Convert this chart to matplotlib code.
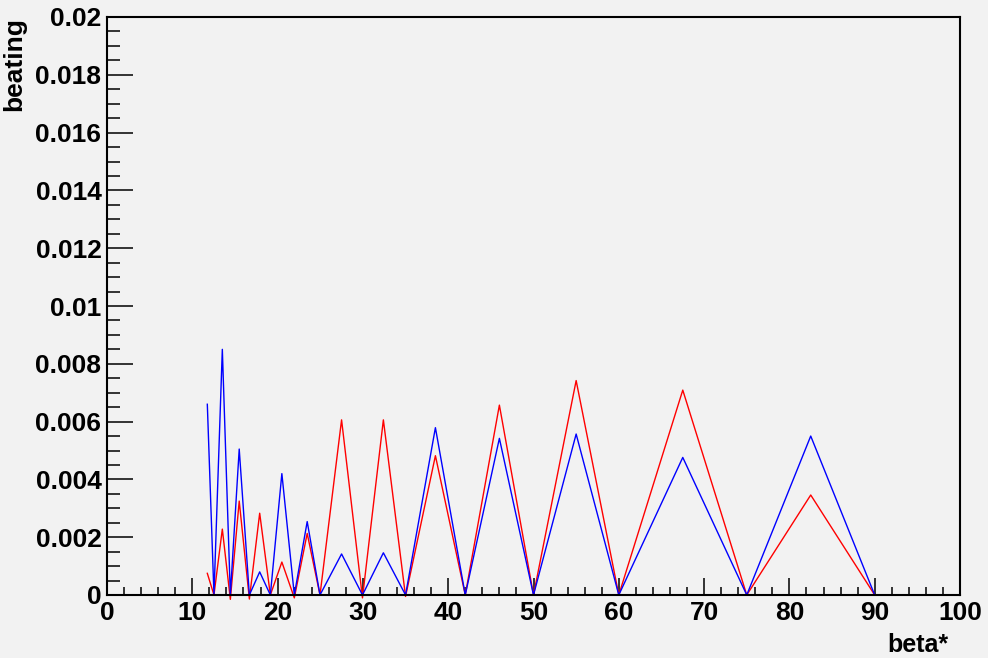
import numpy as np
import matplotlib
matplotlib.use("Agg")
import matplotlib.pyplot as plt
from matplotlib.ticker import MultipleLocator

plt.rcParams['font.family'] = ['Liberation Sans', 'DejaVu Sans']
plt.rcParams['font.weight'] = 'bold'

# valores de beta* (comunes a las dos curvas)
beta = [11.76, 12.54, 13.52, 14.46, 15.5, 16.69, 17.9, 19.15, 20.5, 21.96,
        23.47, 24.97, 27.5, 29.95, 32.4, 35.0, 38.5, 42.0, 46.0, 50.0,
        55.0, 60.0, 67.5, 75.0, 82.5, 90.0]

# beating (rojo)
beat_red = [0.00075, 0.0, 0.00228, -0.00015, 0.00325, -0.00014, 0.00283, 0.0,
            0.00114, -0.0001, 0.00213, 0.0, 0.00606, -0.0001, 0.00606, -0.00005,
            0.00482, 0.0, 0.00657, 0.0, 0.00742, 0.0, 0.00709, 0.0, 0.00346, 0.0]

# beating (azul)
beat_blue = [0.0066, 0.0, 0.0085, 0.0, 0.00505, 0.0, 0.0008, 0.0,
             0.0042, 0.0, 0.00254, 0.0, 0.00142, 0.0, 0.00146, 0.0,
             0.00579, 0.0, 0.00542, 0.0, 0.00557, 0.0, 0.00476, 0.0, 0.0055, 0.0]

y_ticks = np.arange(0, 0.0201, 0.002)
y_labels = ["0", "0.002", "0.004", "0.006", "0.008", "0.01",
            "0.012", "0.014", "0.016", "0.018", "0.02"]

bg = "#f2f2f2"
W, H = 988, 658
fig = plt.figure(figsize=(W / 100, H / 100), dpi=100, facecolor=bg)
ax = fig.add_axes([107 / W, (H - 595) / H, (960 - 107) / W, (595 - 17) / H])
ax.set_facecolor(bg)

ax.plot(beta, beat_red, color="#ff0000", lw=1.0, clip_on=False)
ax.plot(beta, beat_blue, color="#0000ff", lw=1.0, clip_on=False)

ax.set_xlim(0, 100)
ax.set_ylim(0, 0.02)

ax.xaxis.set_major_locator(MultipleLocator(10))
ax.xaxis.set_minor_locator(MultipleLocator(2))
ax.set_yticks(y_ticks)
ax.set_yticklabels(y_labels)
ax.yaxis.set_minor_locator(MultipleLocator(0.0005))

ax.tick_params(axis="both", which="both", direction="in", top=False, right=False,
               labelsize=19, width=1.1, color="black")
ax.tick_params(axis="x", which="major", length=12.2, pad=4.5)
ax.tick_params(axis="x", which="minor", length=6)
ax.tick_params(axis="y", which="major", length=18.5, pad=4)
ax.tick_params(axis="y", which="minor", length=9.4)

for s in ax.spines.values():
    s.set_linewidth(1.5)
    s.set_color("black")

fig.text(948 / W, 1 - 652 / H, "beta*", fontsize=18, fontweight="bold",
         ha="right", va="baseline")
fig.text(14 / W, 1 - 17 / H, "beating", fontsize=19, fontweight="bold",
         rotation=90, ha="center", va="top")

fig.savefig("out.png", dpi=100, facecolor=bg)
